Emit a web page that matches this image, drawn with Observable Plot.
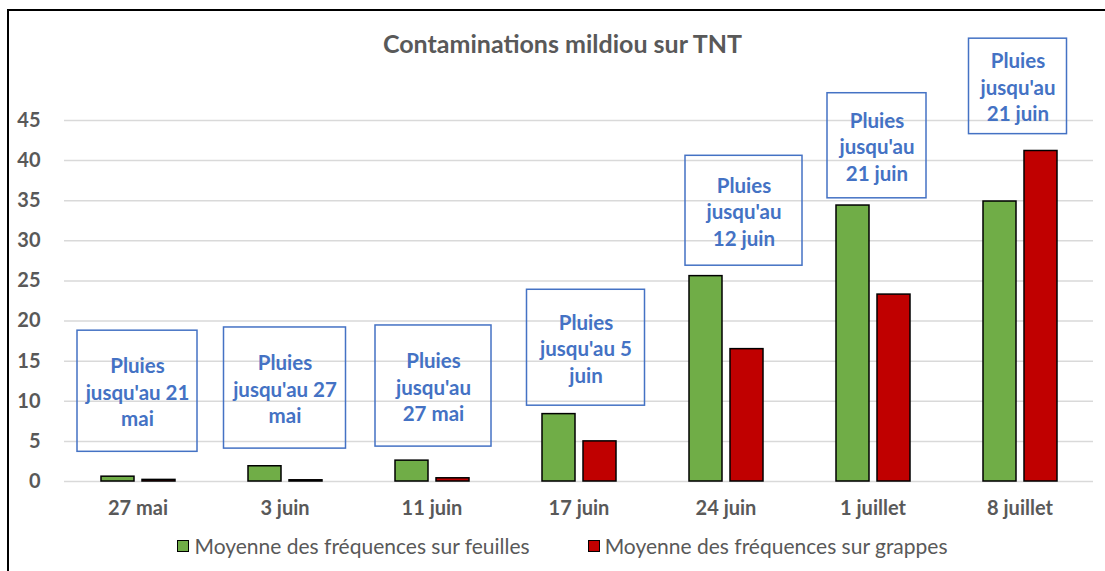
<!DOCTYPE html>
<html>
<head>
<meta charset="utf-8">
<script src="https://cdn.jsdelivr.net/npm/d3@7"></script>
<script src="https://cdn.jsdelivr.net/npm/@observablehq/plot@0.6"></script>
<style>
  html, body { margin: 0; padding: 0; background: #fff; }
  #wrap { position: relative; width: 1105px; height: 571px; overflow: hidden; font-family: Lato, "Open Sans", sans-serif; }
  #frame { position: absolute; left: 7px; top: 9px; width: 1200px; height: 700px; border-left: 2px solid #000; border-top: 2px solid #000; }
  #title { position: absolute; left: 0; width: 1125px; top: 28px; text-align: center; font-size: 25px; font-weight: bold; color: #595959; }
  #chart { position: absolute; left: 0; top: 0; }
  #legend { position: absolute; top: 533px; left: 0; width: 1105px; display: flex; justify-content: center; gap: 58px; font-size: 21px; color: #595959; margin-left: 10px; }
  .item { display: flex; align-items: center; gap: 5px; }
  .sw { width: 10px; height: 10px; border: 1.5px solid #000; display: inline-block; }
</style>
</head>
<body>
<div id="wrap">
  <div id="frame"></div>
  <div id="chart"></div>
  <div id="title"></div>
  <div id="legend"></div>
</div>
<script>
const chartTitle = "Contaminations mildiou sur TNT";
const dates = ["27 mai", "3 juin", "11 juin", "17 juin", "24 juin", "1 juillet", "8 juillet"];
const series = ["Moyenne des fréquences sur feuilles", "Moyenne des fréquences sur grappes"];
const feuilles = [0.6, 1.9, 2.6, 8.4, 25.6, 34.4, 34.9];
const grappes = [0.2, 0.15, 0.4, 5.0, 16.5, 23.3, 41.2];
const yTicks = [0, 5, 10, 15, 20, 25, 30, 35, 40, 45];
const notes = [
  "Pluies\njusqu'au 21\nmai",
  "Pluies\njusqu'au 27\nmai",
  "Pluies\njusqu'au\n27 mai",
  "Pluies\njusqu'au 5\njuin",
  "Pluies\njusqu'au\n12 juin",
  "Pluies\njusqu'au\n21 juin",
  "Pluies\njusqu'au\n21 juin"
];
const noteTop = [18.8, 19.2, 19.45, 23.9, 40.6, 48.4, 55.2];
const noteBottom = [3.7, 4.1, 4.35, 9.45, 26.9, 35.3, 43.3];

// layout of note boxes (pixels): horizontal shift and width
const boxDx = [-0.5, 0, 1.5, 7, 18, 4, -2];
const boxW = [120, 122, 116, 118, 117, 99, 98];
const colors = ["#70AD47", "#C00000"];
const blue = "#4472C4";
const grey = "#595959";

const bars = [];
dates.forEach((d, i) => {
  bars.push({date: d, serie: series[0], value: feuilles[i]});
  bars.push({date: d, serie: series[1], value: grappes[i]});
});
const noteRows = dates.map((d, i) => ({date: d, text: notes[i], top: noteTop[i], bottom: noteBottom[i], mid: (noteTop[i] + noteBottom[i]) / 2}));

const W = 1105, H = 530;
const mL = 64, mR = 12;
const step = (W - mL - mR) / dates.length;

const noteMarks = [];
noteRows.forEach((r, i) => {
  const inset = (step - boxW[i]) / 2;
  noteMarks.push(Plot.rect([r], {
    fx: "date", y1: "bottom", y2: "top",
    insetLeft: inset + boxDx[i], insetRight: inset - boxDx[i],
    fill: "none", stroke: blue, strokeWidth: 1.5
  }));
  noteMarks.push(Plot.text([r], {
    fx: "date", y: "mid", text: "text", dx: boxDx[i],
    fill: blue, fontSize: 20.5, fontWeight: "bold", lineHeight: 1.29, lineAnchor: "middle"
  }));
});

const plot = Plot.plot({
  width: W, height: H,
  marginLeft: mL, marginRight: mR, marginTop: 120, marginBottom: 49,
  style: {fontFamily: "Lato, 'Open Sans', sans-serif", background: "transparent", overflow: "visible"},
  fx: {domain: dates, padding: 0, label: null},
  x: {domain: series, paddingInner: 0.2, paddingOuter: 0.885, axis: null},
  y: {domain: [0, 45], label: null},
  color: {domain: series, range: colors},
  marks: [
    Plot.gridY(yTicks, {stroke: "#d9d9d9", strokeOpacity: 1, strokeWidth: 1.5}),
    Plot.axisY(yTicks, {tickSize: 0, tickPadding: 24, fontSize: 20, fontWeight: "bold", fill: grey, label: null}),
    Plot.axisFx({anchor: "bottom", tickSize: 0, tickPadding: 19, fontSize: 20, fontWeight: "bold", fill: grey, label: null}),
    Plot.barY(bars, {fx: "date", x: "serie", y: "value", fill: "serie", stroke: "#000", strokeWidth: 1.5}),
    ...noteMarks
  ]
});
document.getElementById("chart").appendChild(plot);
document.getElementById("title").textContent = chartTitle;

const leg = document.getElementById("legend");
series.forEach((s, i) => {
  const it = document.createElement("div");
  it.className = "item";
  const sw = document.createElement("span");
  sw.className = "sw";
  sw.style.background = colors[i];
  const t = document.createElement("span");
  t.textContent = s;
  it.appendChild(sw); it.appendChild(t);
  leg.appendChild(it);
});
</script>
</body>
</html>
